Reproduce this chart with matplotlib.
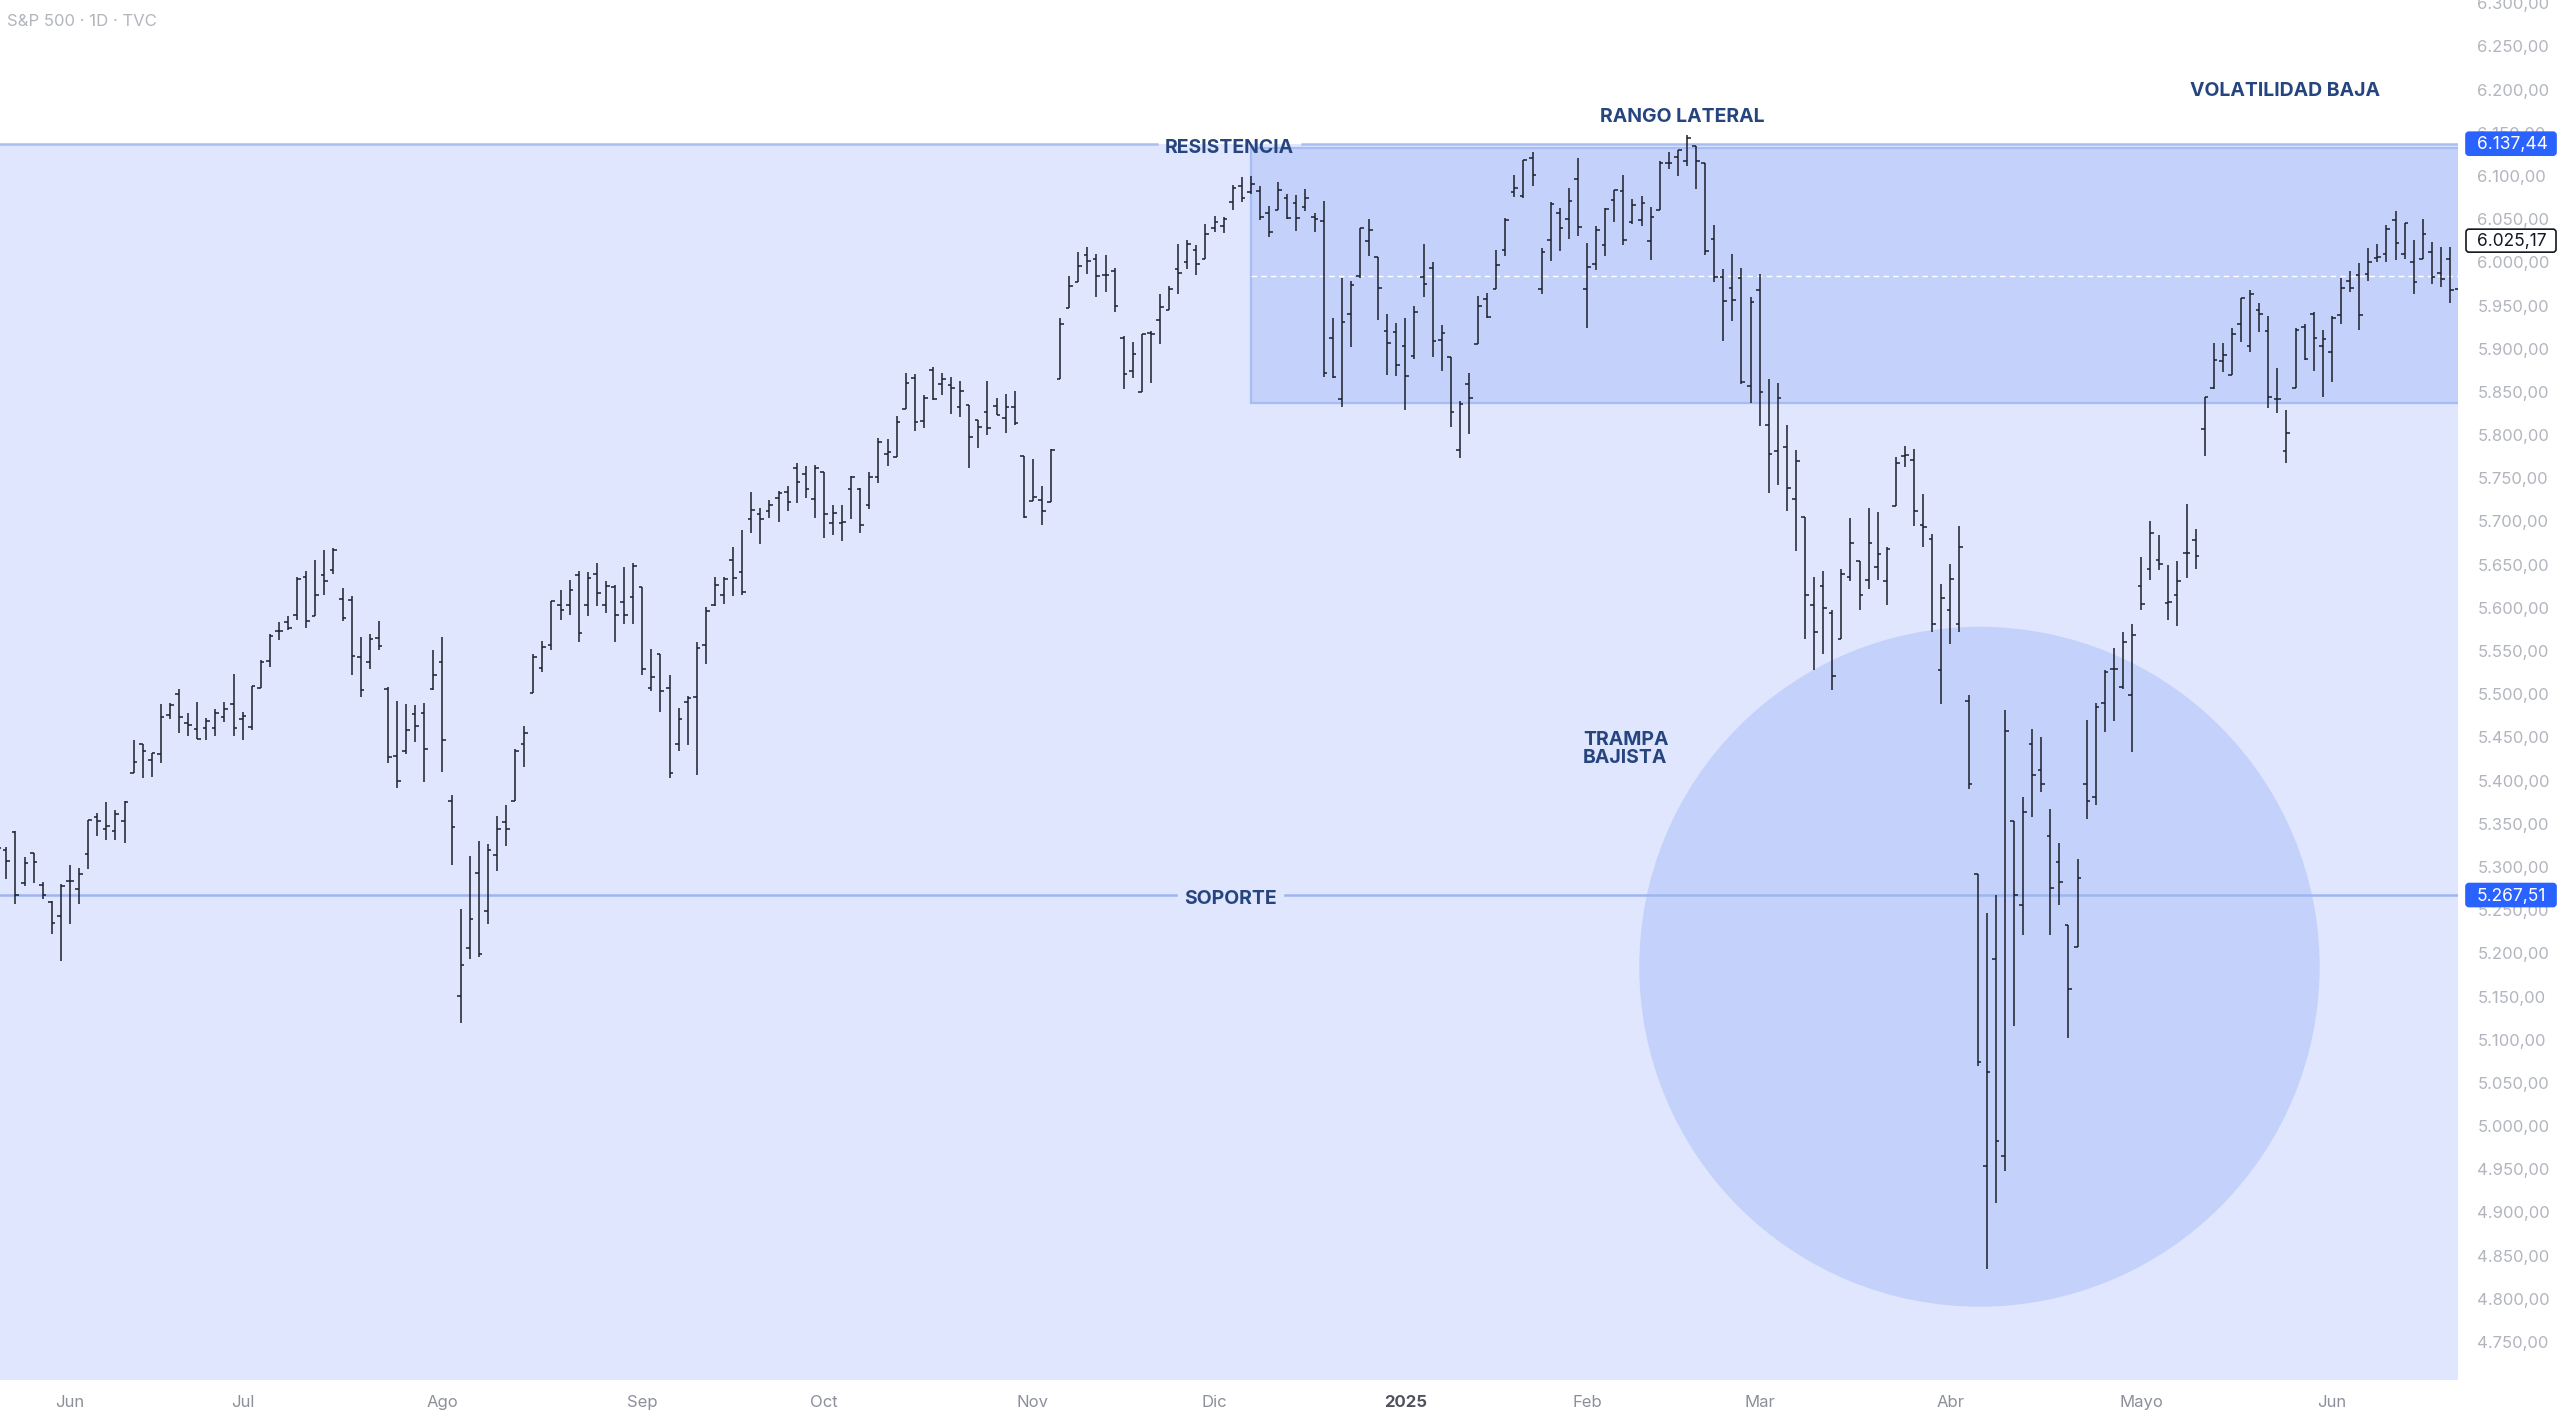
import matplotlib
matplotlib.use("Agg")
import matplotlib.pyplot as plt
import matplotlib.patches as mpatches
import matplotlib.transforms as mtrans
import numpy as np
import pandas as pd

plt.rcParams['font.family'] = ['Inter', 'DejaVu Sans']

# ---------------- data (S&P 500 daily OHLC, May 21 2024 - Jun 23 2025) ----------------
holidays = ["2024-05-27", "2024-06-19", "2024-07-04", "2024-09-02", "2024-11-28",
            "2024-12-25", "2025-01-01", "2025-01-09", "2025-01-20", "2025-02-17",
            "2025-04-18", "2025-05-26", "2025-06-19"]
dates = pd.bdate_range("2024-05-21", "2025-06-23", freq="C", holidays=holidays)

opens = [
    # May 2024
    5298.7, 5319.3, 5340.3, 5281.5, 5315.9, 5278.7, 5259.8, 5243.2,
    # Jun
    5283.4, 5275.0, 5314.5, 5357.8, 5343.8, 5341.2, 5353.0, 5409.1, 5441.9, 5424.1,
    5431.1, 5476.2, 5499.9, 5466.8, 5459.6, 5460.7, 5460.7, 5473.6, 5488.5,
    # Jul
    5471.1, 5461.8, 5507.4, 5537.9, 5572.9, 5584.2, 5591.3, 5635.2, 5590.8, 5638.2, 5644.1,
    5610.1, 5608.6, 5543.4, 5537.0, 5565.3, 5505.8, 5428.7, 5433.7, 5476.6, 5478.7, 5505.6,
    # Aug
    5537.8, 5376.6, 5151.1, 5206.4, 5293.1, 5248.5, 5314.2, 5351.9, 5376.9, 5442.0, 5501.1,
    5530.5, 5557.2, 5602.9, 5603.1, 5637.8, 5602.9, 5639.7, 5602.9, 5624.5, 5607.3, 5612.7,
    # Sep
    5623.9, 5506.7, 5546.3, 5507.3, 5442.1, 5490.5, 5496.4, 5557.5, 5603.3, 5615.2,
    5655.5, 5641.7, 5702.6, 5709.0, 5711.9, 5727.0, 5733.6, 5762.2, 5755.4, 5726.5,
    # Oct
    5757.7, 5698.2, 5698.2, 5737.8, 5737.8, 5719.1, 5751.8, 5778.4, 5775.1, 5829.8, 5866.7,
    5816.6, 5875.6, 5859.4, 5857.8, 5832.7, 5834.5, 5817.8, 5826.8, 5833.9, 5819.7, 5832.7, 5775.3,
    # Nov
    5723.2, 5725.2, 5722.4, 5864.9, 5947.2, 5976.8, 6008.9, 6003.6, 5985.8, 5989.6,
    5912.8, 5874.2, 5849.6, 5917.8, 5933.7, 5944.4, 5992.3, 6000.0, 6014.1, 6003.9,
    # Dec
    6040.1, 6042.0, 6069.4, 6089.0, 6081.4, 6083.0, 6057.6, 6060.2, 6074.3, 6068.2, 6063.8,
    6052.6, 6047.7, 5912.7, 5842.0, 5940.3, 5984.7, 6024.9, 6006.2, 5920.7, 5919.7,
    # Jan 2025
    5903.3, 5891.1, 5982.8, 5993.3, 5910.7, 5890.9, 5782.3, 5859.0, 5905.2, 5957.6,
    5969.4, 6014.1, 6081.4, 6076.3, 6121.4, 5969.0, 6026.0, 6057.7, 6050.8, 6096.8,
    # Feb
    5969.7, 5998.1, 6020.5, 6072.2, 6083.1, 6046.4, 6049.3, 6025.1, 6060.6, 6115.5,
    6121.6, 6117.8, 6134.5, 6114.8, 6026.7, 5982.7, 5970.9, 5981.9, 5856.7,
    # Mar
    5968.3, 5812.0, 5781.4, 5785.9, 5726.0, 5705.4, 5603.7, 5624.8, 5594.5, 5563.8, 5635.6,
    5654.5, 5632.4, 5646.9, 5630.7, 5718.1, 5775.9, 5771.7, 5695.6, 5679.4, 5527.9,
    # Apr
    5597.5, 5580.8, 5492.7, 5292.1, 4953.8, 5193.6, 4965.3, 5353.2, 5255.6, 5441.9, 5412.0,
    5335.8, 5305.5, 5232.9, 5207.7, 5395.9, 5381.4, 5489.7, 5529.2, 5508.9, 5499.4,
    # May
    5625.1, 5645.0, 5655.3, 5605.9, 5614.6, 5663.9, 5679.1, 5807.0, 5854.2, 5886.3, 5869.4,
    5929.1, 5902.9, 5944.7, 5921.0, 5841.3, 5781.9, 5854.1, 5925.5, 5939.9, 5903.7,
    # Jun
    5896.7, 5938.6, 5978.9, 5985.7, 5987.1, 6004.6, 6009.9, 6049.4, 6009.9, 6000.6,
    6004.0, 6012.2, 5987.9, 6004.2, 5969.7,
]
highs = [
    5324.3, 5323.2, 5341.9, 5311.6, 5315.9, 5282.3, 5260.2, 5280.3,
    5302.1, 5298.8, 5354.2, 5362.4, 5375.1, 5365.8, 5375.9, 5447.3, 5441.9, 5432.4,
    5488.5, 5490.4, 5505.5, 5478.3, 5490.8, 5472.9, 5483.1, 5490.8, 5523.6,
    5479.6, 5509.7, 5539.3, 5570.3, 5583.1, 5590.8, 5635.4, 5642.5, 5655.6, 5666.9, 5669.7,
    5622.5, 5614.1, 5566.0, 5570.0, 5585.3, 5508.0, 5491.6, 5488.7, 5487.7, 5489.5, 5551.5,
    5566.2, 5383.9, 5250.9, 5312.3, 5330.6, 5326.6, 5358.9, 5371.2, 5436.5, 5463.2, 5546.2,
    5561.9, 5608.3, 5620.5, 5632.7, 5643.2, 5641.8, 5651.6, 5631.2, 5627.0, 5646.9, 5651.4,
    5623.9, 5552.9, 5546.3, 5522.5, 5484.2, 5497.9, 5560.4, 5600.7, 5636.3, 5636.1,
    5670.8, 5689.8, 5733.6, 5715.1, 5725.4, 5735.3, 5741.0, 5767.4, 5763.8, 5765.1,
    5757.7, 5719.1, 5718.8, 5753.0, 5739.3, 5757.6, 5796.8, 5795.0, 5822.1, 5871.4, 5870.4,
    5846.5, 5878.5, 5872.2, 5866.9, 5863.0, 5834.9, 5817.8, 5862.8, 5842.9, 5847.2, 5850.9, 5775.3,
    5772.5, 5741.4, 5783.4, 5936.1, 5983.8, 6012.5, 6017.3, 6009.9, 6008.2, 5993.9,
    5915.2, 5908.1, 5917.0, 5920.7, 5963.8, 5972.9, 6020.8, 6025.4, 6020.2, 6044.2,
    6053.6, 6052.6, 6089.8, 6099.0, 6100.0, 6088.5, 6065.4, 6092.6, 6079.7, 6078.6, 6085.2,
    6057.7, 6070.7, 5935.5, 5982.1, 5978.3, 6040.1, 6049.8, 6006.2, 5940.8, 5929.7,
    5935.1, 5949.3, 6021.0, 6000.7, 5927.9, 5890.9, 5839.6, 5871.9, 5960.6, 5964.7,
    6014.0, 6051.5, 6100.8, 6118.7, 6128.2, 6017.2, 6069.9, 6062.8, 6086.6, 6120.9,
    6022.1, 6042.5, 6062.9, 6084.0, 6101.3, 6073.4, 6076.3, 6063.6, 6116.9, 6127.5,
    6129.6, 6147.4, 6134.5, 6114.8, 6043.7, 5992.7, 6009.8, 5993.7, 5959.4,
    5986.1, 5865.1, 5860.6, 5812.1, 5783.0, 5705.4, 5636.3, 5642.2, 5597.8, 5645.3, 5703.5,
    5654.5, 5715.3, 5711.2, 5670.8, 5775.1, 5786.9, 5783.6, 5732.3, 5685.9, 5627.6,
    5650.6, 5695.3, 5499.5, 5292.1, 5246.6, 5267.5, 5481.3, 5353.2, 5381.5, 5459.5, 5450.4,
    5367.2, 5328.3, 5232.9, 5309.6, 5469.7, 5489.4, 5528.1, 5553.7, 5572.0, 5581.8,
    5658.9, 5700.7, 5683.9, 5649.6, 5654.3, 5720.1, 5691.0, 5844.2, 5906.6, 5906.6, 5924.3,
    5958.6, 5968.6, 5953.1, 5938.4, 5878.1, 5829.5, 5924.0, 5929.0, 5943.1, 5922.1,
    5937.4, 5981.4, 5990.5, 5999.7, 6016.9, 6021.3, 6043.0, 6059.4, 6045.4, 6026.2,
    6050.8, 6023.3, 6018.3, 6018.2, 6028.8,
]
lows = [
    5297.9, 5286.0, 5256.9, 5278.4, 5280.9, 5262.7, 5222.1, 5191.7,
    5234.3, 5257.6, 5297.6, 5335.4, 5331.3, 5331.5, 5327.3, 5409.1, 5402.5, 5403.8,
    5420.4, 5471.3, 5455.6, 5452.0, 5447.6, 5446.6, 5451.9, 5467.5, 5451.1,
    5446.5, 5458.4, 5507.4, 5531.6, 5562.5, 5574.6, 5586.4, 5576.5, 5590.4, 5614.8, 5639.0,
    5584.8, 5522.8, 5497.0, 5529.0, 5550.9, 5419.9, 5390.9, 5430.7, 5444.4, 5398.9, 5504.4,
    5410.4, 5302.0, 5119.3, 5193.6, 5195.5, 5233.9, 5295.3, 5324.4, 5376.9, 5415.5, 5501.1,
    5525.6, 5550.7, 5585.5, 5591.6, 5560.9, 5590.8, 5602.3, 5593.5, 5560.9, 5581.3, 5581.3,
    5522.7, 5503.7, 5480.0, 5402.6, 5434.5, 5441.7, 5406.9, 5535.5, 5601.6, 5604.5,
    5614.1, 5615.1, 5686.4, 5674.5, 5704.2, 5698.9, 5712.1, 5721.0, 5727.3, 5703.5,
    5681.3, 5684.1, 5677.4, 5702.8, 5686.9, 5714.6, 5745.0, 5764.8, 5775.1, 5829.8, 5804.5,
    5808.3, 5840.3, 5846.1, 5824.8, 5821.2, 5762.4, 5784.9, 5799.9, 5823.1, 5802.7, 5811.3, 5703.6,
    5723.2, 5696.5, 5722.1, 5864.9, 5947.2, 5976.8, 5986.7, 5960.1, 5965.9, 5942.3,
    5853.0, 5865.9, 5849.6, 5860.6, 5905.0, 5944.4, 5963.9, 5992.3, 5984.9, 6003.9,
    6035.3, 6033.9, 6061.1, 6070.0, 6079.4, 6048.6, 6029.9, 6060.2, 6050.0, 6035.8, 6059.1,
    6035.2, 5867.8, 5866.1, 5832.3, 5902.6, 5981.4, 6007.4, 5932.9, 5869.2, 5868.9,
    5829.5, 5888.7, 5960.0, 5890.7, 5874.8, 5809.3, 5773.3, 5801.3, 5905.2, 5935.9,
    5969.4, 6006.9, 6076.1, 6074.7, 6088.7, 5962.9, 6001.7, 6012.9, 6027.5, 6030.9,
    5923.9, 5990.9, 6007.1, 6046.8, 6019.9, 6044.6, 6042.3, 6003.0, 6060.6, 6107.6,
    6099.5, 6111.2, 6084.6, 6008.6, 5977.8, 5908.5, 5932.7, 5858.8, 5837.7,
    5810.9, 5732.6, 5742.4, 5711.6, 5666.3, 5564.0, 5528.4, 5546.1, 5504.7, 5563.8, 5631.1,
    5597.8, 5622.2, 5632.0, 5603.1, 5718.1, 5763.1, 5694.4, 5670.9, 5572.4, 5488.7,
    5558.5, 5571.5, 5390.8, 5069.9, 4835.0, 4910.4, 4948.4, 5115.3, 5220.8, 5358.0, 5386.4,
    5220.8, 5255.6, 5101.6, 5207.7, 5356.1, 5372.0, 5455.9, 5468.6, 5505.7, 5433.2,
    5597.4, 5631.9, 5644.2, 5586.4, 5578.6, 5635.0, 5644.7, 5775.9, 5853.9, 5873.6, 5869.4,
    5907.4, 5895.7, 5919.6, 5830.9, 5825.8, 5767.4, 5854.1, 5886.8, 5873.8, 5843.7,
    5861.4, 5929.0, 5966.1, 5921.2, 5978.6, 6000.0, 6000.3, 6002.3, 6003.9, 5963.2,
    6004.0, 5974.8, 5971.9, 5952.6, 5943.2,
]
closes = [
    5321.4, 5307.0, 5267.8, 5304.7, 5306.0, 5267.0, 5235.5, 5277.5,
    5283.4, 5291.3, 5354.0, 5353.0, 5347.0, 5360.8, 5375.3, 5421.0, 5433.7, 5431.6,
    5473.2, 5487.0, 5473.2, 5464.6, 5447.9, 5469.3, 5477.9, 5482.9, 5460.5,
    5475.1, 5509.0, 5537.0, 5567.2, 5572.9, 5577.0, 5633.9, 5584.5, 5615.4, 5631.2, 5667.2,
    5588.3, 5544.6, 5505.0, 5564.4, 5555.7, 5427.1, 5399.2, 5459.1, 5463.5, 5436.4, 5522.3,
    5446.7, 5346.6, 5186.3, 5240.0, 5199.5, 5319.3, 5344.2, 5344.4, 5434.4, 5455.2, 5543.2,
    5554.3, 5608.3, 5597.1, 5620.9, 5570.6, 5634.6, 5616.8, 5625.8, 5592.2, 5592.0, 5648.4,
    5528.9, 5520.1, 5503.4, 5408.4, 5471.1, 5495.5, 5554.1, 5595.8, 5626.0, 5633.1,
    5634.6, 5618.3, 5713.6, 5702.6, 5718.6, 5732.9, 5722.3, 5745.4, 5738.2, 5762.5,
    5708.8, 5709.5, 5699.9, 5751.1, 5695.9, 5751.1, 5792.0, 5780.1, 5815.0, 5859.9, 5815.3,
    5842.5, 5841.5, 5864.7, 5854.0, 5851.2, 5797.4, 5809.9, 5808.1, 5823.5, 5832.9, 5813.7, 5705.5,
    5728.8, 5712.7, 5782.8, 5929.0, 5973.1, 5995.5, 6001.4, 5984.0, 5985.4, 5949.2,
    5870.6, 5893.6, 5917.0, 5917.1, 5948.7, 5969.3, 5987.4, 6021.6, 5998.7, 6032.4,
    6047.2, 6049.9, 6086.5, 6075.1, 6090.3, 6052.9, 6034.9, 6084.2, 6051.3, 6051.1, 6074.1,
    6050.6, 5872.2, 5867.1, 5930.9, 5974.1, 6040.0, 6037.6, 5970.8, 5906.9, 5881.6,
    5868.6, 5942.5, 5975.4, 5909.0, 5918.3, 5827.0, 5836.2, 5842.9, 5949.9, 5937.3,
    5996.7, 6049.2, 6086.4, 6118.7, 6101.2, 6012.3, 6067.7, 6039.3, 6071.2, 6040.5,
    5994.6, 6037.9, 6061.5, 6083.6, 6026.0, 6066.4, 6068.5, 6052.0, 6115.1, 6114.6,
    6129.6, 6144.2, 6117.5, 6013.1, 5983.3, 5955.3, 5956.1, 5861.6, 5954.5,
    5849.7, 5778.2, 5842.6, 5738.5, 5770.2, 5614.6, 5572.1, 5599.3, 5521.5, 5638.9, 5675.1,
    5614.7, 5675.3, 5662.9, 5667.6, 5767.6, 5776.7, 5712.2, 5693.3, 5580.9, 5611.9,
    5633.1, 5671.0, 5396.5, 5074.1, 5062.3, 4982.8, 5456.9, 5268.1, 5363.4, 5406.0, 5396.6,
    5275.7, 5282.7, 5158.2, 5287.8, 5375.9, 5484.8, 5525.2, 5528.8, 5560.8, 5569.1,
    5604.1, 5686.7, 5650.4, 5606.9, 5631.3, 5663.9, 5659.9, 5844.2, 5886.6, 5892.6, 5916.9,
    5958.4, 5963.6, 5940.5, 5844.6, 5842.0, 5802.8, 5921.5, 5888.6, 5912.2, 5911.7,
    5935.9, 5970.4, 5970.8, 5939.3, 6000.4, 6005.9, 6038.8, 6022.2, 6045.3, 5977.0,
    6033.1, 5982.7, 5980.9, 5967.8, 6025.2,
]

month_names = ["Jun", "Jul", "Ago", "Sep", "Oct", "Nov", "Dic", "2025",
               "Feb", "Mar", "Abr", "Mayo", "Jun"]
resistance = 6137.44
support = 5267.51
last_price = 6025.17
range_low, range_high = 5837.0, 6132.0
yticks = list(range(4750, 6301, 50))

# ---------------- figure ----------------
W, H = 2560, 1415
fig = plt.figure(figsize=(W / 100, H / 100), dpi=100)
fig.patch.set_facecolor("white")
ax = fig.add_axes([0, 1 - 1380 / H, 2458 / W, 1380 / H])
ax.set_facecolor("white")

x = np.arange(len(dates))
ax.set_xlim(0.294, 270.88)
ax.set_ylim(4706, 6303.8)

# background zones
ax.axhspan(4000, resistance, color="#dfe6fd", zorder=0, lw=0)
start_rect = 138.0
ax.add_patch(mpatches.Rectangle((start_rect, range_low), 400, range_high - range_low,
                                facecolor="#c4d2fb", edgecolor="#a6bcf5", lw=1.6, zorder=1))
ax.hlines((range_low + range_high) / 2, start_rect, 400, colors="white",
          linestyles=(0, (4, 3)), lw=1.0, zorder=1.5)
ax.add_patch(mpatches.Ellipse((218.2, 5184.5), 74.9, 787.3,
                              facecolor="#c4d2fb", edgecolor="none", zorder=1))

# horizontal levels with text gaps
lc = "#a9bdf2"
ax.axhline(resistance, 0, 1157 / 2458, color=lc, lw=1.8, zorder=2)
ax.axhline(resistance, 1302 / 2458, 1, color=lc, lw=1.8, zorder=2)
ax.axhline(support, 0, 1176 / 2458, color="#9db5f1", lw=1.8, zorder=2)
ax.axhline(support, 1285 / 2458, 1, color="#9db5f1", lw=1.8, zorder=2)

# OHLC bars
bc = "#1c1f2b"
ax.vlines(x, lows, highs, colors=bc, lw=1.1, zorder=3)
ax.hlines(opens, x - 0.4, x, colors=bc, lw=1.1, zorder=3)
ax.hlines(closes, x, x + 0.4, colors=bc, lw=1.1, zorder=3)

# axes styling
for s in ax.spines.values():
    s.set_visible(False)

def fmt(v):
    s = f"{v:,.2f}"
    return s.replace(",", "X").replace(".", ",").replace("X", ".")

ax.yaxis.tick_right()
ax.set_yticks(yticks)
ax.set_yticklabels([fmt(v) for v in yticks])
ax.tick_params(axis="y", length=0, pad=14, labelsize=12, labelcolor="#b2b5be")

month_pos = [i for i in range(1, len(dates)) if dates[i].month != dates[i - 1].month]
ax.set_xticks(month_pos)
ax.set_xticklabels(month_names)
ax.tick_params(axis="x", length=0, pad=11, labelsize=12, labelcolor="#8d909a")
for t in ax.get_xticklabels():
    if t.get_text() == "2025":
        t.set_fontweight("bold")
        t.set_color("#50535e")

# price boxes on the axis (drawn in pixel space, anchored to data values)
ident = mtrans.IdentityTransform()
for val, fc, ec, tc in [(resistance, "#2962ff", "#2962ff", "white"),
                        (support, "#2962ff", "#2962ff", "white"),
                        (last_price, "white", "#131722", "#131722")]:
    ypix = ax.transData.transform((0, val))[1]
    fig.patches.append(mpatches.FancyBboxPatch(
        (2466, ypix - 11.5), 90, 23, boxstyle="round,pad=0,rounding_size=3",
        facecolor=fc, edgecolor=ec, lw=1.2, transform=ident, figure=fig, zorder=10))
    fig.text(2477, ypix - 1, fmt(val), transform=ident, ha="left", va="center",
             fontsize=12.5, color=tc, zorder=11)

# annotations
def ft(xp, yp, s, **kw):
    fig.text(xp / W, 1 - yp / H, s, **kw)

ac = "#26457f"
akw = dict(color=ac, fontsize=14, fontweight="bold", va="center")
ft(1229, 148, "RESISTENCIA", ha="center", **akw)
ft(1682, 117, "RANGO LATERAL", ha="center", **akw)
ft(2285, 91, "VOLATILIDAD BAJA", ha="center", **akw)
ft(1230, 899, "SOPORTE", ha="center", **akw)
ft(1583, 749, "TRAMPA\nBAJISTA", ha="left", linespacing=1.0, **akw)
ft(7, 21, "S&P 500 · 1D · TVC", ha="left", va="center", fontsize=12, color="#b2b5be")

fig.savefig("out.png", dpi=100, facecolor="white")
